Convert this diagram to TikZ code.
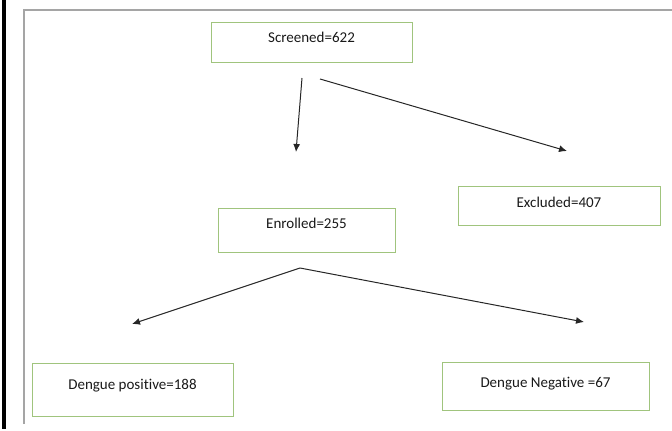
\documentclass[tikz,border=0pt]{standalone}
\usepackage{fontspec}
\setmainfont{Carlito}[Ligatures={NoCommon}]
\usetikzlibrary{arrows.meta}
\definecolor{boxgreen}{RGB}{160,196,125}
\definecolor{framegray}{RGB}{165,165,165}
\definecolor{txt}{RGB}{25,25,25}
\tikzset{
  box/.style={draw=boxgreen, line width=1pt, rectangle, inner sep=0pt,
    font=\fontsize{15}{18}\selectfont, text=txt, text height=10pt},
  arr/.style={draw=black!85, line width=1pt, -{Latex[length=8pt,width=7pt]}}
}
\begin{document}
\begin{tikzpicture}[x=1pt,y=-1pt]
\useasboundingbox (0,0) rectangle (672,431);
% frame
\fill[black] (1.5,0) rectangle (6,429);
\draw[framegray, line width=1.1pt] (24,424) -- (24,10) -- (672,10);
% boxes
\node[box, minimum width=201pt, minimum height=40pt, text depth=10pt] (scr) at (311.5,42) {Screened=622};
\node[box, minimum width=177pt, minimum height=44pt, text depth=14pt] (enr) at (306.5,230) {Enrolled=255};
\node[box, minimum width=202pt, minimum height=39pt, text depth=7pt] (exc) at (559,205.5) {Excluded=407};
\node[box, minimum width=201pt, minimum height=53pt, text depth=11pt] (pos) at (132.5,389.5) {Dengue positive=188};
\node[box, minimum width=207pt, minimum height=48pt, text depth=8pt] (neg) at (545.5,386) {Dengue Negative =67};
% connector ends
\coordinate (a1) at (302,78);
\coordinate (a2) at (296,152);
\coordinate (b1) at (320,79);
\coordinate (b2) at (567,151);
\coordinate (c0) at (300,268);
\coordinate (c1) at (132,324);
\coordinate (c2) at (584,322);
\draw[arr] (a1) -- (a2);
\draw[arr] (b1) -- (b2);
\draw[arr] (c0) -- (c1);
\draw[arr] (c0) -- (c2);
\end{tikzpicture}
\end{document}
